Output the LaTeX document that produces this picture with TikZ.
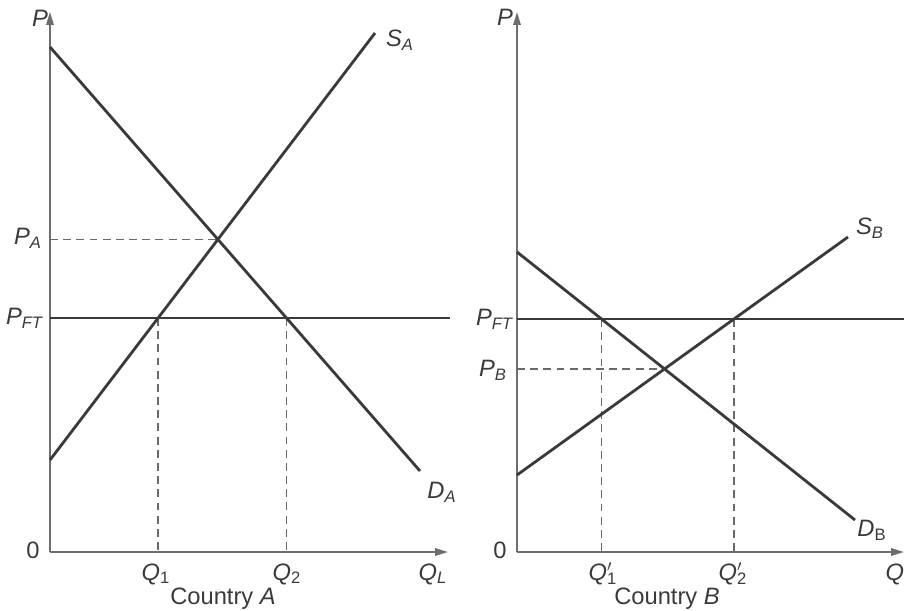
\documentclass[tikz,border=0pt]{standalone}
\usepackage{fontspec}
\setmainfont{Liberation Sans}
\usetikzlibrary{arrows.meta,positioning,calc}
\definecolor{axisgray}{HTML}{6E6E6E}
\definecolor{curvegray}{HTML}{3A3A3A}
\definecolor{guidegray}{HTML}{6A6A6A}
\tikzset{
  axisline/.style={-{Triangle[length=2.6mm,width=1.5mm]}, line width=1pt, draw=axisgray},
  curve/.style={line width=1.6pt, draw=curvegray},
  guide/.style={dash pattern=on 4.5pt off 3pt, line width=0.75pt, draw=guidegray},
  lbl/.style={font=\fontsize{13.5}{15}\selectfont, text=curvegray, inner sep=1pt}
}
\newcommand{\vsub}[2]{\textit{#1}\textsubscript{\textit{#2}}}
\newcommand{\vprime}[2]{\textit{#1}\rlap{$'$}\textsubscript{#2}}
\begin{document}
\begin{tikzpicture}[x=2cm,y=2cm]
  \useasboundingbox (0,0) rectangle (9.04,6.10);
  % Country A
  \coordinate (oA) at (0.50,0.58);
  \coordinate (pA) at (0.50,5.98);
  \coordinate (qA) at (4.48,0.58);
  \coordinate (dA1) at (0.50,5.63);
  \coordinate (dA2) at (4.20,1.39);
  \coordinate (sA1) at (0.50,1.50);
  \coordinate (sA2) at (3.75,5.77);
  \coordinate (ftA1) at (0.50,2.92);
  \coordinate (ftA2) at (4.50,2.92);
  \coordinate (eA) at (intersection of dA1--dA2 and sA1--sA2);
  \coordinate (q1) at (intersection of sA1--sA2 and ftA1--ftA2);
  \coordinate (q2) at (intersection of dA1--dA2 and ftA1--ftA2);
  \draw[axisline] (oA) -- (pA);
  \draw[axisline] (oA) -- (qA);
  \draw[guide] (oA |- eA) -- (eA);
  \draw[guide] (q1) -- (q1 |- oA);
  \draw[guide] (q2) -- (q2 |- oA);
  \draw[curve] (ftA1) -- (ftA2);
  \draw[curve] (dA1) -- (dA2);
  \draw[curve] (sA1) -- (sA2);
  \node[lbl] (labPA) at (0.40,5.92) {\textit{P}};
  \node[lbl] (zeroA) at (0.33,0.60) {0};
  \node[lbl] (labEA) at (0.28,3.72) {\vsub{P}{A}};
  \node[lbl] (labFTA) at (0.25,2.92) {\vsub{P}{FT}};
  \node[lbl] (labQ1) at (1.56,0.36) {\textit{Q}\textsubscript{1}};
  \node[lbl] (labQ2) at (2.87,0.36) {\textit{Q}\textsubscript{2}};
  \node[lbl] (labQLA) at (4.33,0.36) {\vsub{Q}{L}};
  \node[lbl] (ctyA) at (2.23,0.11) {Country \textit{A}};
  \node[lbl] (labSA) at (4.00,5.70) {\vsub{S}{A}};
  \node[lbl] (labDA) at (4.42,1.18) {\vsub{D}{A}};
  % Country B
  \coordinate (oB) at (5.17,0.58);
  \coordinate (pB) at (5.17,5.98);
  \coordinate (qB) at (9.04,0.58);
  \coordinate (dB1) at (5.17,3.58);
  \coordinate (dB2) at (8.55,0.90);
  \coordinate (sB1) at (5.17,1.35);
  \coordinate (sB2) at (8.48,3.73);
  \coordinate (ftB1) at (5.17,2.91);
  \coordinate (ftB2) at (9.04,2.91);
  \coordinate (eB) at (intersection of dB1--dB2 and sB1--sB2);
  \coordinate (q1p) at (intersection of dB1--dB2 and ftB1--ftB2);
  \coordinate (q2p) at (intersection of sB1--sB2 and ftB1--ftB2);
  \draw[axisline] (oB) -- (pB);
  \draw[axisline] (oB) -- (qB);
  \draw[guide] (oB |- eB) -- (eB);
  \draw[guide] (q1p) -- (q1p |- oB);
  \draw[guide] (q2p) -- (q2p |- oB);
  \draw[curve] (ftB1) -- (ftB2);
  \draw[curve] (dB1) -- (dB2);
  \draw[curve] (sB1) -- (sB2);
  \node[lbl] (labPB) at (5.05,5.93) {\textit{P}};
  \node[lbl] (zeroB) at (5.00,0.60) {0};
  \node[lbl] (labFTB) at (4.95,2.91) {\vsub{P}{FT}};
  \node[lbl] (labEB) at (4.93,2.40) {\vsub{P}{B}};
  \node[lbl] (labQ1p) at (6.03,0.36) {\vprime{Q}{1}};
  \node[lbl] (labQ2p) at (7.33,0.36) {\vprime{Q}{2}};
  \node[lbl] (labQLB) at (9.00,0.36) {\vsub{Q}{L}};
  \node[lbl] (ctyB) at (6.67,0.11) {Country \textit{B}};
  \node[lbl] (labSB) at (8.70,3.82) {\vsub{S}{B}};
  \node[lbl] (labDB) at (8.72,0.80) {\textit{D}\textsubscript{B}};
\end{tikzpicture}
\end{document}
